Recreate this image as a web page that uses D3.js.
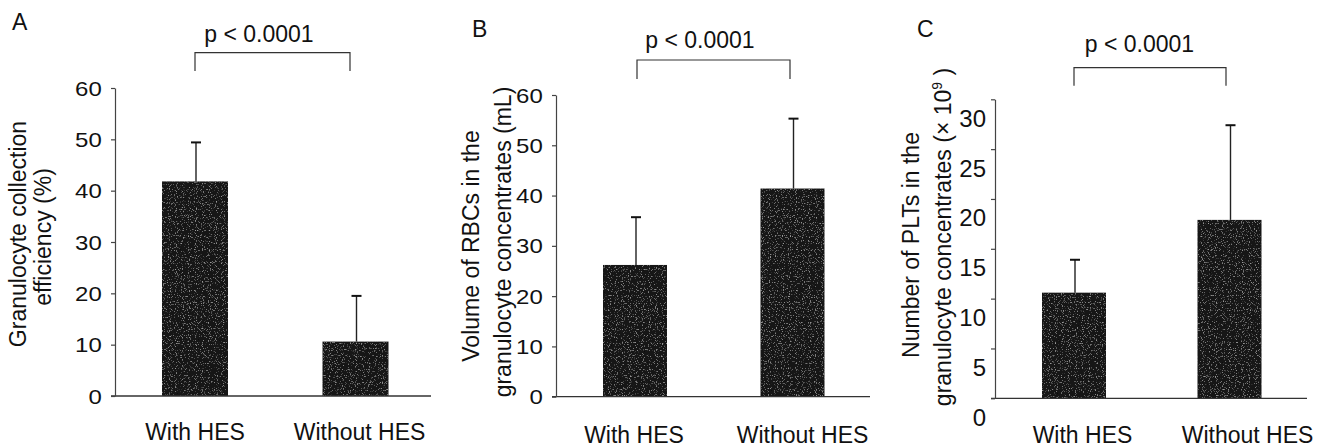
<!DOCTYPE html>
<html>
<head>
<meta charset="utf-8">
<script src="https://cdn.jsdelivr.net/npm/d3@7"></script>
<style>
  html, body { margin: 0; padding: 0; background: #fff; }
  svg { display: block; }
  text { font-family: "Liberation Sans", Arial, Helvetica, sans-serif; fill: #111; }
</style>
</head>
<body>
<svg id="chart" width="1329" height="448">
  <defs>
    <filter id="grain" x="0" y="0" width="100%" height="100%">
      <feTurbulence type="fractalNoise" baseFrequency="0.85" numOctaves="1" seed="7" result="noise"/>
      <feColorMatrix in="noise" type="matrix"
        values="0 0 0 0 0.32  0 0 0 0 0.32  0 0 0 0 0.32  5 0 0 0 -2.9" result="speck"/>
      <feComposite in="speck" in2="SourceGraphic" operator="in" result="speckIn"/>
      <feMerge><feMergeNode in="SourceGraphic"/><feMergeNode in="speckIn"/></feMerge>
    </filter>
  </defs>
</svg>
<script>
// ---------------- data ----------------
const categories = ["With HES", "Without HES"];
const efficiencyMeans = [41.8, 10.6];
const efficiencyErrors = [7.6, 8.9];
const rbcMeans = [26.2, 41.4];
const rbcErrors = [9.5, 13.9];
const pltMeans = [10.6, 17.9];
const pltErrors = [3.3, 9.5];
const efficiencyTicks = [0, 10, 20, 30, 40, 50, 60];
const rbcTicks = [0, 10, 20, 30, 40, 50, 60];
const pltTicks = [0, 5, 10, 15, 20, 25, 30];
const panelLetters = ["A", "B", "C"];
const pValueLabel = "p < 0.0001";
const yLabelA = ["Granulocyte collection", "efficiency (%)"];
const yLabelB = ["Volume of RBCs in the", "granulocyte concentrates", "(mL)"];
const yLabelC = ["Number of PLTs in the", "granulocyte concentrates", "(× 10", "9", " )"];

// ---------------- layout ----------------
const svg = d3.select("#chart");

const panels = [
  { letter: panelLetters[0], means: efficiencyMeans, errs: efficiencyErrors, ticks: efficiencyTicks, max: 60,
    axisX: 115, y0: 396, yTop: 88, xEnd: 431, centers: [195, 355.5], barW: 66,
    bracket: [195, 350, 52.7, 71], pText: [259, 42], letterPos: [12, 30],
    catY: 440, catDx: [0, 4], tickStyle: "wide", tickDy: 0 },
  { letter: panelLetters[1], means: rbcMeans, errs: rbcErrors, ticks: rbcTicks, max: 60,
    axisX: 556, y0: 396.7, yTop: 95, xEnd: 870, centers: [635, 792.5], barW: 64,
    bracket: [637, 790, 60, 79], pText: [700, 48], letterPos: [472, 36.7],
    catY: 443, catDx: [-1, 10], tickStyle: "wide", tickDy: 0 },
  { letter: panelLetters[2], means: pltMeans, errs: pltErrors, ticks: pltTicks, max: 30,
    axisX: 995, y0: 398.3, yTop: 99.3, xEnd: 1307, centers: [1074, 1229.5], barW: 64,
    bracket: [1074, 1226, 67.7, 85.7], pText: [1139.5, 52], letterPos: [917, 36.7],
    catY: 443, catDx: [8.5, 18], tickStyle: "normal", tickDy: 19 }
];

panels.forEach((p, i) => {
  const g = svg.append("g");
  const y = d3.scaleLinear().domain([0, p.max]).range([p.y0, p.yTop]);
  const x = d3.scalePoint().domain(categories).range(p.centers);

  // bars
  g.selectAll("rect.bar").data(categories).join("rect")
    .attr("class", "bar")
    .attr("x", d => x(d) - p.barW / 2)
    .attr("width", p.barW)
    .attr("y", (d, k) => y(p.means[k]))
    .attr("height", (d, k) => y(0) - y(p.means[k]))
    .attr("fill", "#161616")
    .attr("filter", "url(#grain)");

  // error bars
  g.selectAll("line.err").data(categories).join("line")
    .attr("class", "err")
    .attr("x1", d => x(d) + 1).attr("x2", d => x(d) + 1)
    .attr("y1", (d, k) => y(p.means[k]))
    .attr("y2", (d, k) => y(p.means[k] + p.errs[k]))
    .attr("stroke", "#222").attr("stroke-width", 1.4);
  g.selectAll("line.cap").data(categories).join("line")
    .attr("class", "cap")
    .attr("x1", d => x(d) - 4).attr("x2", d => x(d) + 6)
    .attr("y1", (d, k) => y(p.means[k] + p.errs[k]))
    .attr("y2", (d, k) => y(p.means[k] + p.errs[k]))
    .attr("stroke", "#111").attr("stroke-width", 2);

  // baseline
  g.append("line")
    .attr("x1", p.axisX - 4).attr("x2", p.xEnd)
    .attr("y1", y(0)).attr("y2", y(0))
    .attr("stroke", "#333").attr("stroke-width", 1.3);

  // y axis
  const axis = d3.axisLeft(y).tickValues(p.ticks).tickSize(4).tickSizeOuter(0).tickFormat(d3.format("d"));
  const ag = g.append("g").attr("transform", `translate(${p.axisX},0)`).call(axis);
  ag.select(".domain").attr("stroke", "#444").attr("stroke-width", 1.2);
  ag.selectAll(".tick line").attr("stroke", "#444").attr("stroke-width", 1.2);
  if (p.tickStyle === "wide") {
    ag.selectAll(".tick text")
      .attr("font-size", 20)
      .attr("x", -11)
      .attr("dy", "0.35em")
      .attr("transform", "scale(1.2,1)")
      .style("font-family", '"Liberation Sans", Arial, sans-serif')
      .attr("fill", "#111");
  } else {
    ag.selectAll(".tick text")
      .attr("font-size", 24)
      .attr("x", -9)
      .attr("dy", p.tickDy + 8)
      .style("font-family", '"Liberation Sans", Arial, sans-serif')
      .attr("fill", "#111");
  }

  // category labels
  g.selectAll("text.cat").data(categories).join("text")
    .attr("class", "cat")
    .attr("x", (d, k) => x(d) + p.catDx[k])
    .attr("y", p.catY)
    .attr("text-anchor", "middle")
    .attr("font-size", 23)
    .text(d => d);

  // significance bracket
  const [bx1, bx2, byt, byb] = p.bracket;
  g.append("path")
    .attr("d", `M${bx1},${byb}V${byt}H${bx2}V${byb}`)
    .attr("fill", "none").attr("stroke", "#333").attr("stroke-width", 1.2);
  g.append("text")
    .attr("x", p.pText[0]).attr("y", p.pText[1])
    .attr("text-anchor", "middle")
    .attr("font-size", 23)
    .text(pValueLabel);

  // panel letter
  g.append("text")
    .attr("x", p.letterPos[0]).attr("y", p.letterPos[1])
    .attr("font-size", 23)
    .text(p.letter);
});

// y-axis titles
function yTitle(cx, cy, size, build) {
  const t = svg.append("text")
    .attr("transform", `translate(${cx},${cy}) rotate(-90)`)
    .attr("text-anchor", "middle")
    .attr("font-size", size);
  build(t);
}
// Panel A
yTitle(26, 234, 23, t => t.text(yLabelA[0]));
yTitle(51, 237, 23, t => t.text(yLabelA[1]));
// Panel B
yTitle(479, 246, 23, t => t.text(yLabelB[0]));
yTitle(511, 242, 23, t => {
  t.append("tspan").text(yLabelB[1] + " ");
  t.append("tspan").text(yLabelB[2]);
});
// Panel C
yTitle(919, 245, 23, t => t.text(yLabelC[0]));
yTitle(951, 237, 23, t => {
  t.append("tspan").text(yLabelC[1] + " ");
  t.append("tspan").text(yLabelC[2]);
  t.append("tspan").attr("font-size", 14).attr("dy", -9).text(yLabelC[3]);
  t.append("tspan").attr("dy", 9).text(yLabelC[4]);
});
</script>
</body>
</html>
